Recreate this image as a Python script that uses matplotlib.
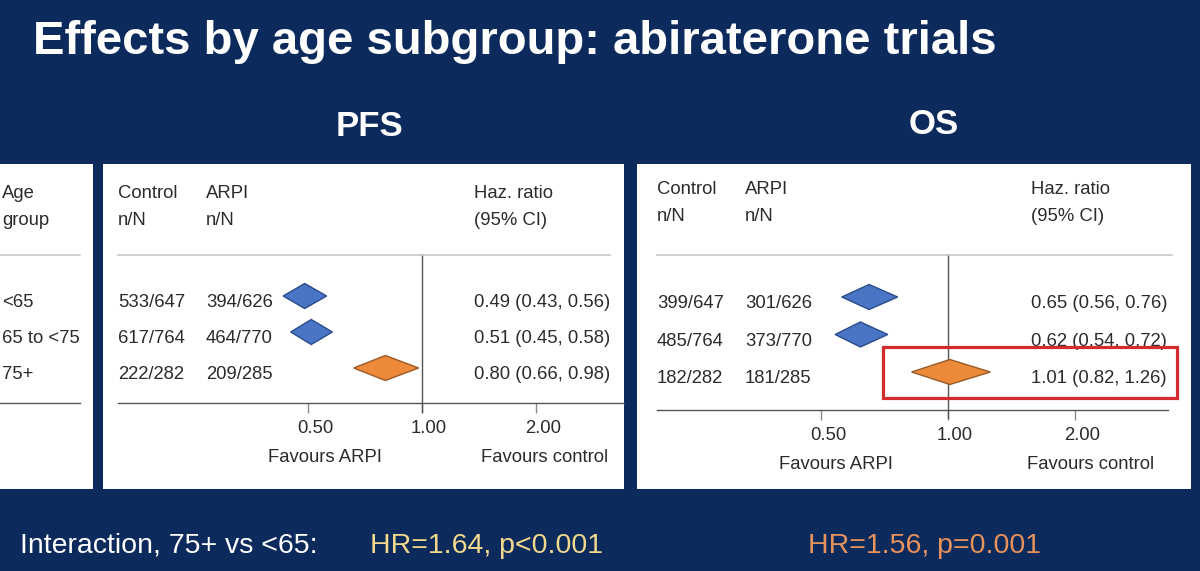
import matplotlib
matplotlib.use("Agg")
import matplotlib.pyplot as plt
from matplotlib.patches import Rectangle, Polygon
from matplotlib.lines import Line2D
from matplotlib.ticker import NullLocator
from matplotlib.transforms import ScaledTranslation, blended_transform_factory

plt.rcParams['font.family'] = ['Liberation Sans', 'DejaVu Sans']

# data
age_groups = ['<65', '65 to <75', '75+']

pfs_control = ['533/647', '617/764', '222/282']
pfs_arpi = ['394/626', '464/770', '209/285']
pfs_hr = [0.49, 0.51, 0.80]
pfs_lo = [0.43, 0.45, 0.66]
pfs_hi = [0.56, 0.58, 0.98]

os_control = ['399/647', '485/764', '182/282']
os_arpi = ['301/626', '373/770', '181/285']
os_hr = [0.65, 0.62, 1.01]
os_lo = [0.56, 0.54, 0.82]
os_hi = [0.76, 0.72, 1.26]

tick_values = [0.5, 1.0, 2.0]
tick_labels = ['0.50', '1.00', '2.00']

pfs_interaction = 'HR=1.64, p<0.001'
os_interaction = 'HR=1.56, p=0.001'

W, H = 1200, 571
BG = '#0c2a5c'
TXT = '#2b2b2b'
FS = 13.3
row_fill = ['#4a74c4', '#4a74c4', '#ec8a3a']
row_edge = ['#2b4c8c', '#2b4c8c', '#9a5a26']

fig = plt.figure(figsize=(W / 100, H / 100), dpi=100, facecolor=BG)


def fx(x):
    return x / W


def fy(y):
    return 1 - y / H


def ftext(x, y, s, **kw):
    kw.setdefault('fontsize', FS)
    kw.setdefault('color', TXT)
    kw.setdefault('va', 'baseline')
    fig.text(fx(x), fy(y), s, **kw)


def hline(x0, x1, y, color, lw=1.0):
    fig.add_artist(Line2D([fx(x0), fx(x1)], [fy(y), fy(y)], transform=fig.transFigure,
                          color=color, lw=lw))


# white panels
for x0, x1 in [(0, 93), (103, 624), (637, 1191)]:
    fig.add_artist(Rectangle((fx(x0), fy(489)), fx(x1) - fx(x0), (489 - 164) / H,
                             transform=fig.transFigure, fc='white', ec='none', zorder=0))

# titles
ftext(33, 54, 'Effects by age subgroup: abiraterone trials', fontsize=34,
      weight='bold', color='white')
ftext(369, 136, 'PFS', fontsize=25, weight='bold', color='white', ha='center')
ftext(934, 134, 'OS', fontsize=25, weight='bold', color='white', ha='center')

# bottom interaction line
ftext(20, 553, 'Interaction, 75+ vs <65:', fontsize=20.5, color='white')
ftext(370, 553, pfs_interaction, fontsize=20.5, color='#f2d98c')
ftext(808, 553, os_interaction, fontsize=20.5, color='#e8925c')


def forest(left, right, top, bottom, one_px, dbl_px, row0, step, vext,
           control, arpi, hr, lo, hi, cols, head_y, fav_y, fav_x):
    ax = fig.add_axes([fx(left), fy(bottom), fx(right) - fx(left), (bottom - top) / H])
    ax.patch.set_alpha(0)
    ax.set_xscale('log')
    ax.set_xlim(2 ** ((left - one_px) / dbl_px), 2 ** ((right - one_px) / dbl_px))
    n = len(hr)
    ax.set_ylim(n - 1 + (bottom - (row0 + (n - 1) * step)) / step, -(row0 - top) / step)
    for s in ['top', 'right', 'left']:
        ax.spines[s].set_visible(False)
    ax.spines['bottom'].set_color('#555555')
    ax.spines['bottom'].set_linewidth(1.0)
    ax.set_yticks([])
    ax.set_xticks(tick_values)
    ax.set_xticklabels([])
    ax.xaxis.set_minor_locator(NullLocator())
    ax.tick_params(axis='x', direction='out', length=7, color='#8a8a8a', width=1)
    ax.axvline(1.0, ymin=-vext / (bottom - top), ymax=1, clip_on=False,
               color='#555555', lw=1.0)

    # tick labels (slightly offset to the right as on the slide)
    bt = blended_transform_factory(ax.transData, ax.transAxes)
    for v, lab in zip(tick_values, tick_labels):
        ax.text(v, 0, lab, transform=bt + ScaledTranslation(0.07, -0.30, fig.dpi_scale_trans),
                ha='center', va='baseline', fontsize=FS, color=TXT)

    # diamonds
    h = 12.5 / step
    for i in range(n):
        ax.add_patch(Polygon([(lo[i], i), (hr[i], i - h), (hi[i], i), (hr[i], i + h)],
                             closed=True, fc=cols[i], ec=row_edge[i], lw=1.0, zorder=3))

    # row texts
    rt = blended_transform_factory(fig.transFigure, ax.transData) + \
        ScaledTranslation(0, -0.11, fig.dpi_scale_trans)
    xc, xa, xh = cols_x = text_x
    for i in range(n):
        ax.text(fx(xc), i, control[i], transform=rt, fontsize=FS, color=TXT, va='baseline')
        ax.text(fx(xa), i, arpi[i], transform=rt, fontsize=FS, color=TXT, va='baseline')
        ax.text(fx(xh), i, f'{hr[i]:.2f} ({lo[i]:.2f}, {hi[i]:.2f})', transform=rt,
                fontsize=FS, color=TXT, va='baseline')

    # headers
    ftext(xc, head_y, 'Control')
    ftext(xc, head_y + 27, 'n/N')
    ftext(xa, head_y, 'ARPI')
    ftext(xa, head_y + 27, 'n/N')
    ftext(xh, head_y, 'Haz. ratio')
    ftext(xh, head_y + 27, '(95% CI)')

    ftext(fav_x[0], fav_y, 'Favours ARPI', ha='center')
    ftext(fav_x[1], fav_y, 'Favours control', ha='center')
    return ax


text_x = (118, 206, 474)
ax_pfs = forest(118, 624, 255, 403, 422, 114, 296, 36, 9,
                pfs_control, pfs_arpi, pfs_hr, pfs_lo, pfs_hi, row_fill,
                198, 462, (325, 545))
hline(118, 610, 255, '#c8c8c8', 1.2)

text_x = (657, 745, 1031)
ax_os = forest(657, 1168, 255, 410, 948, 127, 297, 37.5, 8,
               os_control, os_arpi, os_hr, os_lo, os_hi, row_fill,
               194, 469, (836, 1091))
hline(657, 1172, 255, '#c8c8c8', 1.2)

# left panel: age groups
ftext(2, 198, 'Age')
ftext(2, 225, 'group')
hline(0, 80, 255, '#c8c8c8', 1.2)
hline(0, 80, 403, '#555555', 1.0)
for i, g in enumerate(age_groups):
    ftext(2, 307 + 36 * i, g)

# highlight box around the 75+ OS result
fig.add_artist(Rectangle((fx(883), fy(398)), fx(1177) - fx(883), (398 - 347) / H,
                         transform=fig.transFigure, fc='none', ec='#d42c2c', lw=2.3,
                         zorder=5))

plt.savefig('out.png', dpi=100, facecolor=BG)
